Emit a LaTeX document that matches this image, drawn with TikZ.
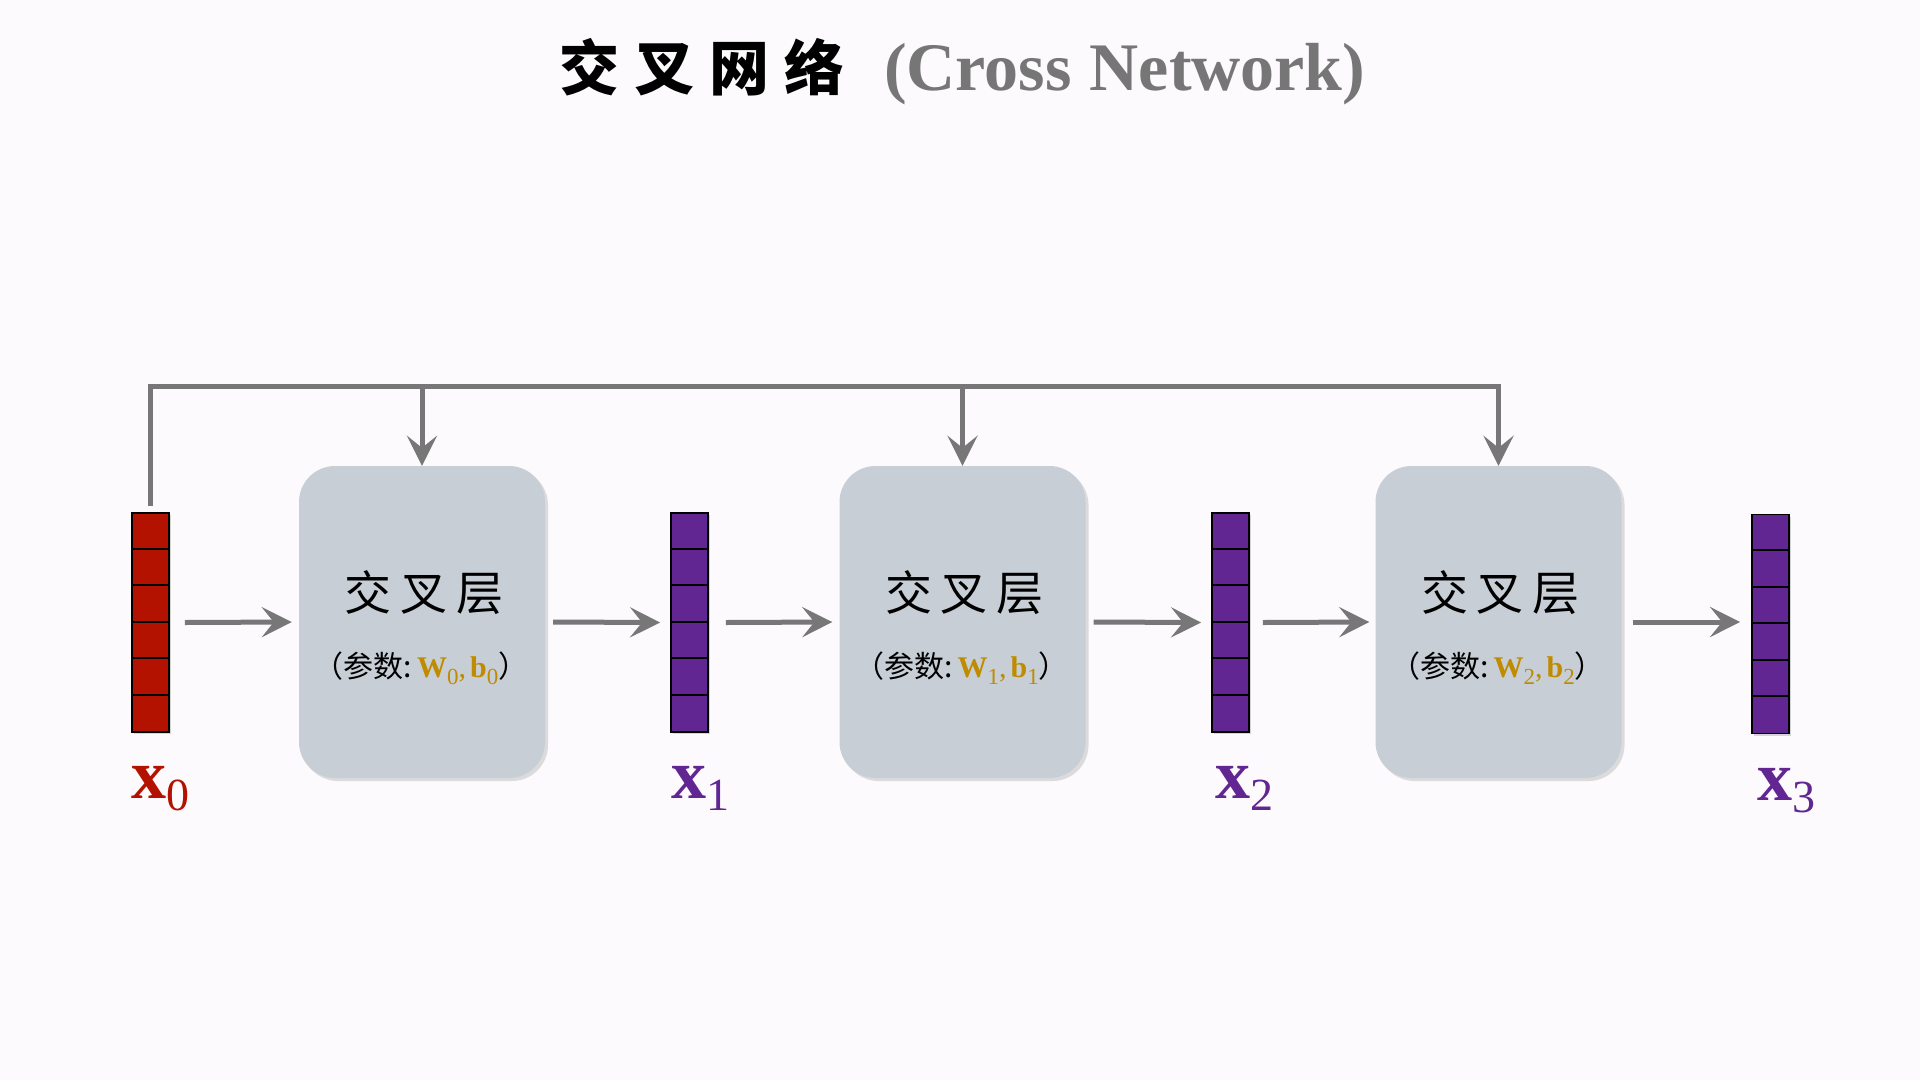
\documentclass[tikz,border=0pt]{standalone}
\usepackage{fontspec}
\setmainfont{Liberation Serif}
\newfontfamily\cjk{Noto Sans CJK SC}
\usetikzlibrary{arrows.meta,shadows}
\definecolor{bgc}{HTML}{FCFAFC}
\definecolor{boxc}{HTML}{C8CED6}
\definecolor{redc}{HTML}{B41200}
\definecolor{purc}{HTML}{612691}
\definecolor{goldc}{HTML}{BF8C00}
\definecolor{arrc}{HTML}{777777}
\definecolor{titlegray}{HTML}{767676}
\tikzset{
  layerbox/.style={draw=none, fill=boxc, rounded corners=36pt, minimum width=246pt, minimum height=312pt, inner sep=0pt,
    drop shadow={opacity=0.25, shadow xshift=3pt, shadow yshift=-3pt}},
  vecbar/.style={draw=black, line width=1.8pt, minimum width=37pt, minimum height=219pt, inner sep=0pt,
    drop shadow={opacity=0.3, shadow xshift=2pt, shadow yshift=-2pt}},
  cellline/.style={draw=black, line width=1.8pt},
  flowarrow/.style={draw=arrc, line width=5pt, -{Stealth[length=30pt,width=30pt,inset=12pt]}},
  boxtitle/.style={font=\cjk\fontsize{47}{52}\selectfont, inner sep=0pt},
  boxparam/.style={font=\fontsize{30}{34}\selectfont, inner sep=0pt},
  veclabel/.style={inner sep=0pt, anchor=base west},
}
\newcommand{\bvar}[2]{\textbf{#1}\raisebox{-0.22em}{\fontsize{23}{24}\selectfont #2}}
\newcommand{\params}[1]{{\cjk （参数:}\hspace{5pt}{\color{goldc}\bvar{W}{#1},\hspace{4pt}\bvar{b}{#1}}{\cjk ）}}
\newcommand{\layername}{交\hspace{9pt}叉\hspace{9pt}层}
\newcommand{\vlabel}[1]{{\fontsize{70}{80}\selectfont\bfseries x}\raisebox{-12pt}{\fontsize{46}{50}\selectfont #1}}
\begin{document}
\begin{tikzpicture}[x=1pt,y=-1pt]
\useasboundingbox (0,0) rectangle (1920,1080);
\fill[bgc] (0,0) rectangle (1920,1080);

% title
\node[font=\cjk\bfseries\fontsize{60}{66}\selectfont, anchor=base east, inner sep=0pt] (tcn) at (845,90) {交\hspace{15pt}叉\hspace{15pt}网\hspace{15pt}络};
\node[font=\bfseries\fontsize{68}{80}\selectfont, text=titlegray, anchor=base west, inner sep=0pt] (ten) at (884,90) {(Cross\hspace{18pt}Network)};

% cross layer boxes
\node[layerbox] (b1) at (422,622) {};
\node[layerbox] (b2) at (962.5,622) {};
\node[layerbox] (b3) at (1498.5,622) {};

\node[boxtitle] (t1) at (424,593) {\layername};
\node[boxtitle] (t2) at (964.5,593) {\layername};
\node[boxtitle] (t3) at (1500.5,593) {\layername};
\node[boxparam] (p1) at (421,668) {\params{0}};
\node[boxparam] (p2) at (961.5,668) {\params{1}};
\node[boxparam] (p3) at (1497.5,668) {\params{2}};

% vectors
\node[vecbar, fill=redc] (v0) at (150.5,622.5) {};
\node[vecbar, fill=purc] (v1) at (689.5,622.5) {};
\node[vecbar, fill=purc] (v2) at (1230.5,622.5) {};
\node[vecbar, fill=purc] (v3) at (1770.5,624) {};
\foreach \v in {v0,v1,v2,v3}{
  \foreach \k in {1,...,5}{
    \draw[cellline] ([yshift={-36.5pt*\k}]\v.north west) -- ([yshift={-36.5pt*\k}]\v.north east);
  }
}

% labels
\node[veclabel, text=redc] (l0) at (131,798) {\vlabel{0}};
\node[veclabel, text=purc] (l1) at (671,798) {\vlabel{1}};
\node[veclabel, text=purc] (l2) at (1215,798) {\vlabel{2}};
\node[veclabel, text=purc] (l3) at (1757,800) {\vlabel{3}};

% horizontal flow arrows
\draw[flowarrow] ([xshift=15pt]v0.east) -- ([xshift=-7pt]b1.west);
\draw[flowarrow] ([xshift=8pt]b1.east) -- ([xshift=-10pt]v1.west);
\draw[flowarrow] ([xshift=17pt]v1.east) -- ([xshift=-7pt]b2.west);
\draw[flowarrow] ([xshift=8pt]b2.east) -- ([xshift=-10pt]v2.west);
\draw[flowarrow] ([xshift=13pt]v2.east) -- ([xshift=-6pt]b3.west);
\draw[flowarrow] ([xshift=11pt]b3.east) -- ([xshift=-11pt]v3.west |- b3.east);

% skip connection from x0
\coordinate (tr) at (1498.5,386);
\draw[flowarrow] ([yshift=6pt]v0.north) |- (tr) -- (b3.north);
\draw[flowarrow] (b1.north |- tr) -- (b1.north);
\draw[flowarrow] (b2.north |- tr) -- (b2.north);
\end{tikzpicture}
\end{document}
